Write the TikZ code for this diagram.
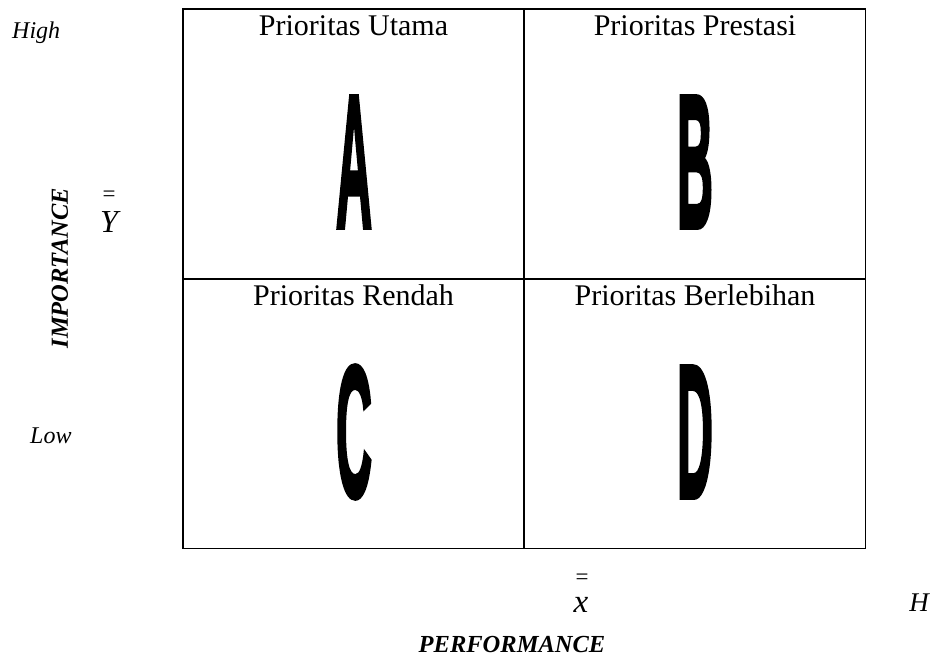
\documentclass[tikz,border=0pt]{standalone}
\usepackage{fontspec}
\setmainfont{Liberation Serif}
\newfontfamily\heavyfont[FakeBold=3]{Liberation Sans Bold}
\usetikzlibrary{positioning}

\newcommand{\bigletter}[1]{\resizebox{36pt}{130pt}{\heavyfont #1}}

\begin{document}
\begin{tikzpicture}[x=1pt,y=-1pt,
    every node/.style={inner sep=0pt},
    quad/.style={draw,line width=1.5pt,minimum width=341pt,minimum height=270pt},
    qtitle/.style={anchor=base,font=\fontsize{30}{32}\selectfont},
    axislabel/.style={anchor=base west,font=\fontsize{24}{26}\selectfont\itshape},
    axisname/.style={font=\fontsize{24.5}{26}\selectfont\bfseries\itshape},
    meanbar/.style={font=\fontsize{23}{23}\selectfont},
  ]
  \useasboundingbox (0,0) rectangle (933,664);
  % quadrants
  \node[quad] (qa) at (353.5,144) {};
  \node[quad] (qb) at (695,144) {};
  \node[quad] (qc) at (353.5,413.5) {};
  \node[quad] (qd) at (695,413.5) {};
  \node[qtitle] (ta) at (353.5,35) {Prioritas Utama};
  \node[qtitle] (tb) at (695,35) {Prioritas Prestasi};
  \node[qtitle] (tc) at (353.5,305) {Prioritas Rendah};
  \node[qtitle] (td) at (695,305) {Prioritas Berlebihan};
  \node (la) at (354,162) {\bigletter{A}};
  \node (lb) at (695,162) {\bigletter{B}};
  \node (lc) at (354,432) {\bigletter{C}};
  \node (ld) at (695,432) {\bigletter{D}};
  % vertical axis
  \node[axislabel] (high) at (12,38) {High};
  \node[axislabel] (low) at (30,443) {Low};
  \node[axisname,rotate=90] (imp) at (60,268) {IMPORTANCE};
  \node[meanbar] (yeq) at (109,196) {=};
  \node[font=\fontsize{32}{32}\selectfont\itshape] (ymean) at (109,222) {Y};
  % horizontal axis
  \node[meanbar] (xeq) at (582,579) {=};
  \node[font=\fontsize{33}{33}\selectfont\itshape] (xmean) at (581,605) {x};
  \node[font=\fontsize{27}{27}\selectfont\itshape] (hi) at (919,603) {H};
  \node[axisname,anchor=base] (perf) at (512,652) {PERFORMANCE};
\end{tikzpicture}
\end{document}
